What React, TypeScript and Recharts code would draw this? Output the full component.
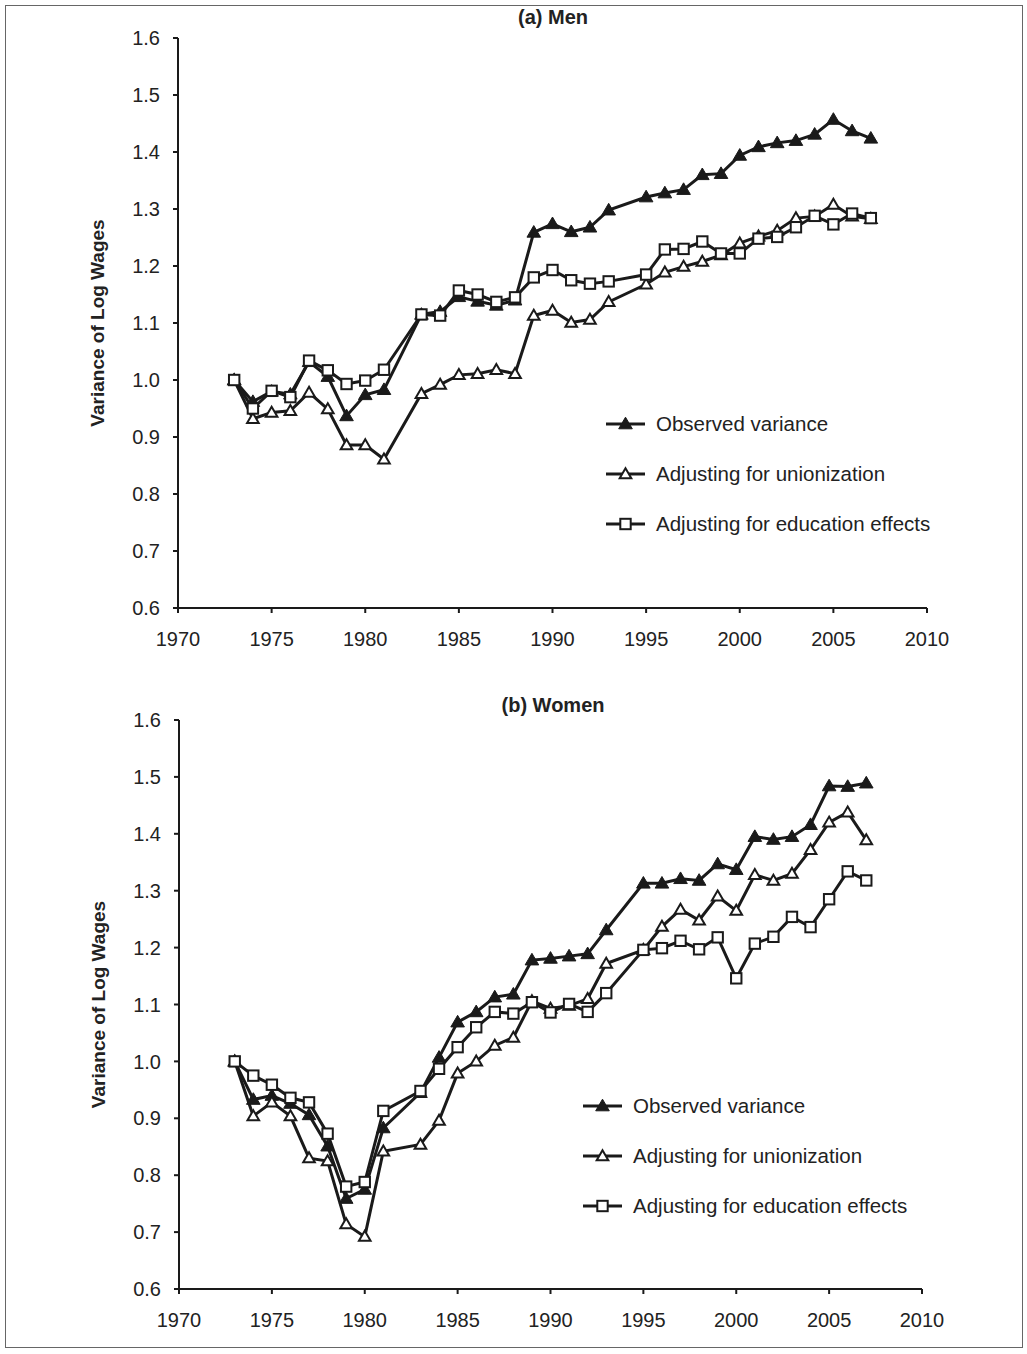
import React from 'react';
import { LineChart, Line, XAxis, YAxis, Legend } from 'recharts';

const years = [1973, 1974, 1975, 1976, 1977, 1978, 1979, 1980, 1981, 1983, 1984, 1985, 1986, 1987, 1988, 1989, 1990, 1991, 1992, 1993, 1995, 1996, 1997, 1998, 1999, 2000, 2001, 2002, 2003, 2004, 2005, 2006, 2007];

const menObserved = [1.0, 0.962, 0.98, 0.975, 1.032, 1.006, 0.937, 0.974, 0.983, 1.115, 1.12, 1.146, 1.138, 1.131, 1.14, 1.259, 1.274, 1.26, 1.268, 1.298, 1.321, 1.328, 1.334, 1.36, 1.362, 1.394, 1.409, 1.416, 1.42, 1.431, 1.457, 1.437, 1.424];
const menUnion = [1.0, 0.932, 0.943, 0.946, 0.978, 0.949, 0.886, 0.886, 0.861, 0.976, 0.992, 1.009, 1.011, 1.018, 1.011, 1.113, 1.122, 1.101, 1.106, 1.137, 1.168, 1.189, 1.199, 1.208, 1.219, 1.24, 1.252, 1.262, 1.284, 1.287, 1.308, 1.287, 1.283];
const menEducation = [1.0, 0.95, 0.981, 0.97, 1.034, 1.017, 0.993, 0.999, 1.018, 1.115, 1.113, 1.157, 1.15, 1.137, 1.145, 1.18, 1.193, 1.175, 1.169, 1.173, 1.185, 1.229, 1.23, 1.243, 1.222, 1.222, 1.248, 1.251, 1.268, 1.288, 1.273, 1.292, 1.284];

const womenObserved = [1.0, 0.933, 0.94, 0.926, 0.906, 0.851, 0.759, 0.775, 0.883, 0.945, 1.007, 1.069, 1.087, 1.113, 1.118, 1.178, 1.181, 1.185, 1.189, 1.231, 1.313, 1.313, 1.321, 1.318, 1.347, 1.337, 1.395, 1.39, 1.395, 1.416, 1.484, 1.483, 1.489];
const womenUnion = [1.0, 0.904, 0.928, 0.904, 0.83, 0.825, 0.714, 0.692, 0.842, 0.854, 0.896, 0.979, 1.0, 1.028, 1.042, 1.106, 1.093, 1.098, 1.11, 1.172, 1.196, 1.237, 1.267, 1.248, 1.29, 1.265, 1.328, 1.318, 1.33, 1.372, 1.42, 1.438, 1.389];
const womenEducation = [1.0, 0.975, 0.959, 0.936, 0.928, 0.873, 0.78, 0.788, 0.913, 0.948, 0.987, 1.025, 1.06, 1.087, 1.084, 1.104, 1.086, 1.101, 1.087, 1.12, 1.196, 1.199, 1.212, 1.197, 1.218, 1.146, 1.207, 1.219, 1.254, 1.236, 1.285, 1.334, 1.318];

const xTicks = [1970, 1975, 1980, 1985, 1990, 1995, 2000, 2005, 2010];
const yTicks = [0.6, 0.7, 0.8, 0.9, 1.0, 1.1, 1.2, 1.3, 1.4, 1.5, 1.6];

const seriesNames = ['Observed variance', 'Adjusting for unionization', 'Adjusting for education effects'];
const panelTitles = ['(a) Men', '(b) Women'];
const yAxisTitle = 'Variance of Log Wages';

const INK = '#1a1a1a';
const FONT = '"Liberation Sans", Arial, sans-serif';

type Kind = 'filledTri' | 'openTri' | 'square';
const kinds: Kind[] = ['filledTri', 'openTri', 'square'];

function markerShape(kind: Kind, cx: number, cy: number, key?: string | number) {
  if (kind === 'filledTri') {
    return (
      <path key={key} d={`M${cx},${cy - 6.8}L${cx + 6.8},${cy + 4.8}L${cx - 6.8},${cy + 4.8}Z`} fill={INK} stroke={INK} strokeWidth={1} />
    );
  }
  if (kind === 'openTri') {
    return (
      <path key={key} d={`M${cx},${cy - 5.8}L${cx + 5.8},${cy + 4.2}L${cx - 5.8},${cy + 4.2}Z`} fill="#fff" stroke={INK} strokeWidth={2} strokeLinejoin="miter" />
    );
  }
  return <rect key={key} x={cx - 5.2} y={cy - 5.2} width={10.4} height={10.4} fill="#fff" stroke={INK} strokeWidth={2} />;
}

const makeDot = (kind: Kind) => (props: any) => {
  const { cx, cy, index } = props;
  if (cx == null || cy == null) return <g key={`e-${kind}-${index}`} />;
  return markerShape(kind, cx, cy, `${kind}-${index}`);
};

function LegendBox() {
  return (
    <div style={{ fontFamily: FONT, fontSize: 20.5, color: '#222' }}>
      {seriesNames.map((name, i) => (
        <div key={name} style={{ height: 50, display: 'flex', alignItems: 'center' }}>
          <svg width={44} height={20} style={{ display: 'block' }}>
            <line x1={2} y1={10} x2={41} y2={10} stroke={INK} strokeWidth={3} />
            {markerShape(kinds[i], 21.5, 10)}
          </svg>
          <span style={{ marginLeft: 8, whiteSpace: 'nowrap' }}>{name}</span>
        </div>
      ))}
    </div>
  );
}

function Panel({ data, title, titleY, margin, legendPos }: { data: any[]; title: string; titleY: number; margin: any; legendPos: { left: number; top: number } }) {
  return (
    <LineChart width={1027} height={677} data={data} margin={margin}>
      <XAxis
        dataKey="year"
        type="number"
        domain={[1970, 2010]}
        ticks={xTicks}
        allowDataOverflow
        stroke={INK}
        strokeWidth={2}
        tickSize={5}
        tickMargin={19}
        height={40}
        tick={{ fill: '#222', fontSize: 20, fontFamily: FONT }}
        interval={0}
      />
      <YAxis
        type="number"
        domain={[0.6, 1.6]}
        ticks={yTicks}
        allowDataOverflow
        stroke={INK}
        strokeWidth={2}
        tickSize={5}
        tickMargin={13}
        width={118}
        interval={0}
        tickFormatter={(v: number) => v.toFixed(1)}
        tick={{ fill: '#222', fontSize: 20, fontFamily: FONT }}
        label={{
          value: yAxisTitle,
          angle: -90,
          position: 'insideLeft',
          offset: 37,
          style: { textAnchor: 'middle', fontSize: 19, fontWeight: 'bold', fill: '#222', fontFamily: FONT },
        }}
      />
      <Legend
        layout="vertical"
        align="center"
        verticalAlign="middle"
        content={() => <LegendBox />}
        wrapperStyle={{ left: legendPos.left, top: legendPos.top, width: 420 }}
      />
      <Line dataKey="obs" name={seriesNames[0]} stroke={INK} strokeWidth={3} dot={makeDot('filledTri')} isAnimationActive={false} />
      <Line dataKey="union" name={seriesNames[1]} stroke={INK} strokeWidth={3} dot={makeDot('openTri')} isAnimationActive={false} />
      <Line dataKey="edu" name={seriesNames[2]} stroke={INK} strokeWidth={3} dot={makeDot('square')} isAnimationActive={false} />
      <text x={553} y={titleY} textAnchor="middle" fontSize={20} fontWeight="bold" fill="#222" fontFamily={FONT}>
        {title}
      </text>
    </LineChart>
  );
}

export default function App() {
  const menData = years.map((y, i) => ({ year: y, obs: menObserved[i], union: menUnion[i], edu: menEducation[i] }));
  const womenData = years.map((y, i) => ({ year: y, obs: womenObserved[i], union: womenUnion[i], edu: womenEducation[i] }));
  return (
    <div style={{ position: 'absolute', left: 0, top: 0, width: 1027, height: 1354, background: '#fff', fontFamily: FONT }}>
      <div style={{ position: 'absolute', left: 5, top: 5, width: 1018, height: 1343, border: '1.5px solid #666', boxSizing: 'border-box' }} />
      <div style={{ position: 'absolute', left: 0, top: 0 }}>
        <Panel data={menData} title={panelTitles[0]} titleY={24} margin={{ top: 38, right: 100, left: 60, bottom: 29 }} legendPos={{ left: 604, top: 399 }} />
      </div>
      <div style={{ position: 'absolute', left: 0, top: 677 }}>
        <Panel data={womenData} title={panelTitles[1]} titleY={35} margin={{ top: 43, right: 105, left: 61, bottom: 25 }} legendPos={{ left: 581, top: 404 }} />
      </div>
    </div>
  );
}
